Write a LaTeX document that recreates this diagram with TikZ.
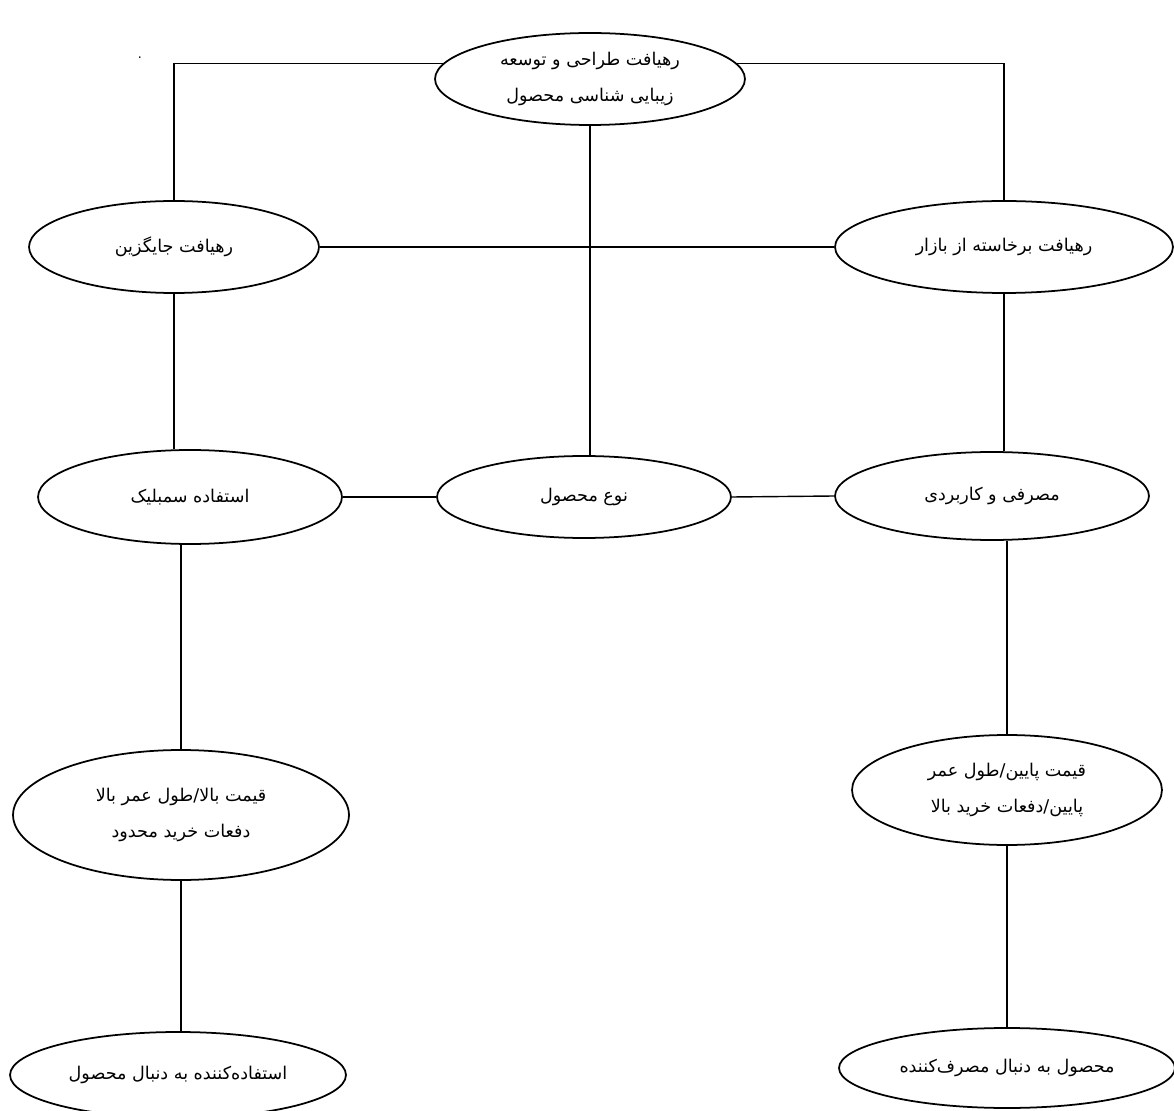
\documentclass[tikz,border=0pt]{standalone}
\usepackage{fontspec}
\usepackage{tikz}
\usetikzlibrary{shapes.geometric}
\newfontfamily\farsifont[Script=Arabic]{DejaVu Sans}
\TeXXeTstate=1
\newcommand{\rtl}[1]{\beginR #1\endR}

\begin{document}
\begin{tikzpicture}[x=0.02cm,y=-0.02cm,
    oval/.style={draw,ellipse,line width=1pt,inner sep=0pt,align=center,
        font=\farsifont\fontsize{10}{20}\selectfont},
    link/.style={line width=0.8pt}]
    \useasboundingbox (0,0) rectangle (1174,1111);

    % Top
    \node[oval,minimum width=6.2cm,minimum height=1.84cm] (design) at (590,79)
        {\rtl{رهیافت طراحی و توسعه}\\\rtl{زیبایی شناسی محصول}};
    \node[font=\small] (dot) at (140,58) {.};

    % Approaches
    \node[oval,minimum width=5.8cm,minimum height=1.84cm] (alt) at (174,247) {\rtl{رهیافت جایگزین}};
    \node[oval,minimum width=6.76cm,minimum height=1.84cm] (market) at (1004,247) {\rtl{رهیافت برخاسته از بازار}};

    % Middle row
    \node[oval,minimum width=6.08cm,minimum height=1.88cm] (symbolic) at (190,497) {\rtl{استفاده سمبلیک}};
    \node[oval,minimum width=5.88cm,minimum height=1.64cm] (type) at (584,497) {\rtl{نوع محصول}};
    \node[oval,minimum width=6.28cm,minimum height=1.76cm] (usage) at (992,496) {\rtl{مصرفی و کاربردی}};

    % Price
    \node[oval,minimum width=6.72cm,minimum height=2.6cm] (highP) at (181,815)
        {\rtl{قیمت بالا/طول عمر بالا}\\\rtl{دفعات خرید محدود}};
    \node[oval,minimum width=6.2cm,minimum height=2.2cm] (lowP) at (1007,790)
        {\rtl{قیمت پایین/طول عمر}\\\rtl{پایین/دفعات خرید بالا}};

    % Bottom
    \node[oval,minimum width=6.72cm,minimum height=1.72cm] (user) at (178,1075) {\rtl{استفاده‌کننده به دنبال محصول}};
    \node[oval,minimum width=6.72cm,minimum height=1.6cm] (consumer) at (1007,1068) {\rtl{محصول به دنبال مصرف‌کننده}};

    % Links
    \draw[link] (design.174) -| (alt.north);
    \draw[link] (design.6) -| (market.north);
    \draw[link] (alt.east) -- (market.west);
    \draw[link] (design.south) -- (design.south |- type.north);
    \draw[link] (alt.south) -- (alt.south |- symbolic.north);
    \draw[link] (market.south) -- (market.south |- usage.north);
    \draw[link] (symbolic.east) -- (type.west);
    \draw[link] (type.east) -- (usage.west);
    \draw[link] (highP.north |- symbolic.south) -- (highP.north);
    \draw[link] (lowP.north |- usage.south) -- (lowP.north);
    \draw[link] (highP.south) -- (highP.south |- user.north);
    \draw[link] (lowP.south) -- (consumer.north);
\end{tikzpicture}
\end{document}
